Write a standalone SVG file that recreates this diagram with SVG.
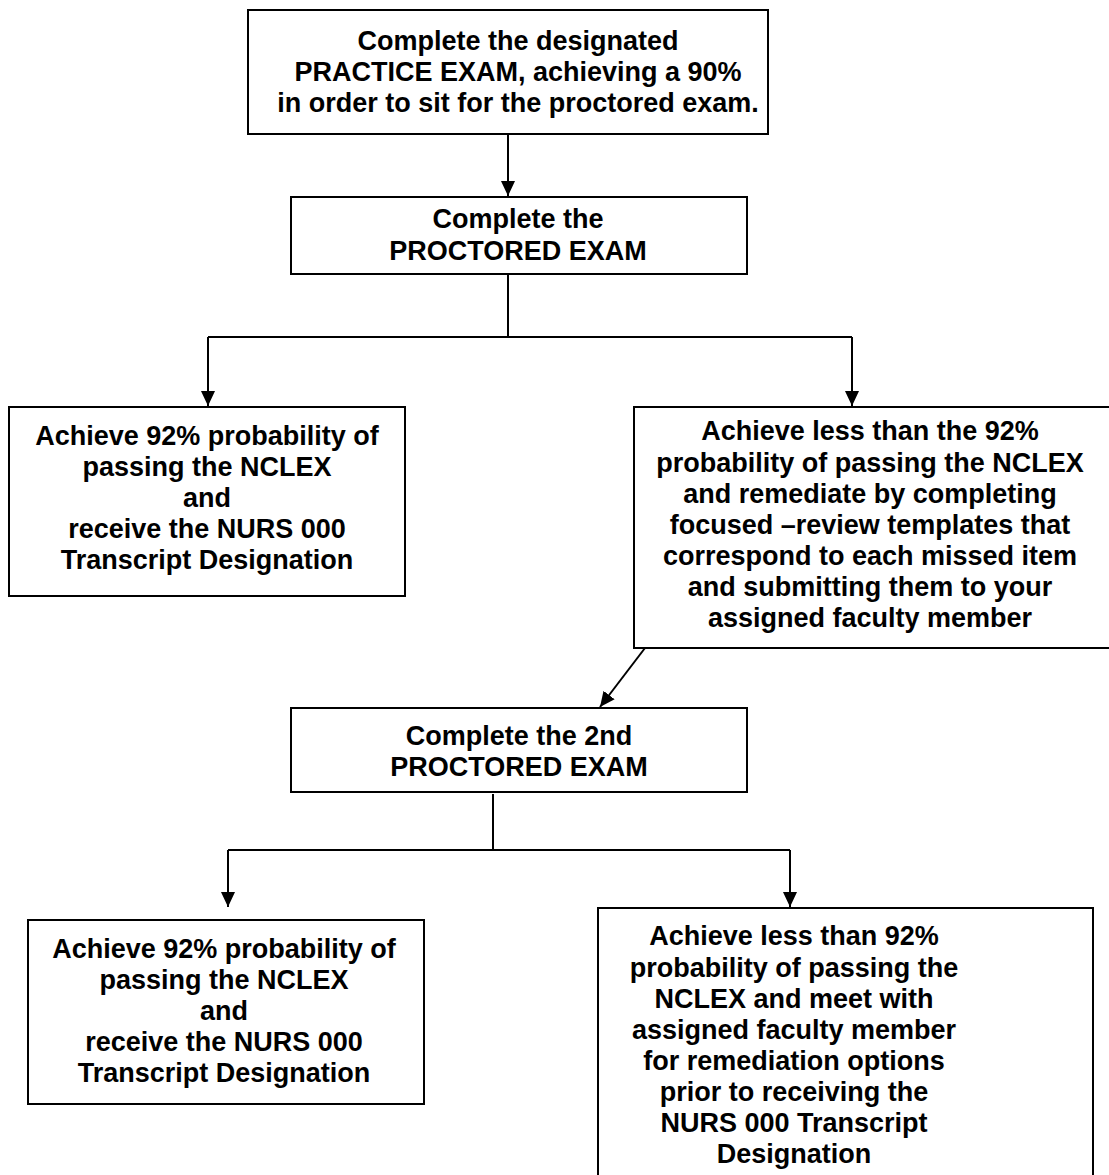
<svg xmlns="http://www.w3.org/2000/svg" width="1109" height="1175" viewBox="0 0 1109 1175">
<defs>
<marker id="ah" markerWidth="14" markerHeight="16" refX="15" refY="7" orient="auto" markerUnits="userSpaceOnUse">
<path d="M0,0 L15,7 L0,14 Z" fill="#000"/>
</marker>
<style>
.box{fill:#fff;stroke:#000;stroke-width:2}
.t{font-family:"Liberation Sans",Arial,sans-serif;font-weight:bold;font-size:27px;text-anchor:middle;fill:#000}
.c{fill:none;stroke:#000;stroke-width:2}
</style>
</defs>
<rect width="1109" height="1175" fill="#fff"/>
<g id="connectors">
<path class="c" d="M508,134 V196" marker-end="url(#ah)"/>
<path class="c" d="M508,274 V337"/>
<path class="c" d="M208,337 H852"/>
<path class="c" d="M208,337 V406" marker-end="url(#ah)"/>
<path class="c" d="M852,337 V406" marker-end="url(#ah)"/>
<path class="c" d="M645,648 L600,707" marker-end="url(#ah)"/>
<path class="c" d="M493,794 V850"/>
<path class="c" d="M228,850 H790"/>
<path class="c" d="M228,850 V907" marker-end="url(#ah)"/>
<path class="c" d="M790,850 V907" marker-end="url(#ah)"/>
</g>
<g id="n1">
<rect class="box" x="248" y="10" width="520" height="124"/>
<text class="t" x="518" y="50">Complete the designated</text>
<text class="t" x="518" y="81">PRACTICE EXAM, achieving a 90%</text>
<text class="t" x="518" y="112">in order to sit for the proctored exam.</text>
</g>
<g id="n2">
<rect class="box" x="291" y="197" width="456" height="77"/>
<text class="t" x="518" y="228">Complete the</text>
<text class="t" x="518" y="260">PROCTORED EXAM</text>
</g>
<g id="n3">
<rect class="box" x="9" y="407" width="396" height="189"/>
<text class="t" x="207" y="445">Achieve 92% probability of</text>
<text class="t" x="207" y="476">passing the NCLEX</text>
<text class="t" x="207" y="507">and</text>
<text class="t" x="207" y="538">receive the NURS 000</text>
<text class="t" x="207" y="569">Transcript Designation</text>
</g>
<g id="n4">
<rect class="box" x="634" y="407" width="480" height="241"/>
<text class="t" x="870" y="440">Achieve less than the 92%</text>
<text class="t" x="870" y="472">probability of passing the NCLEX</text>
<text class="t" x="870" y="503">and remediate by completing</text>
<text class="t" x="870" y="534">focused –review templates that</text>
<text class="t" x="870" y="565">correspond to each missed item</text>
<text class="t" x="870" y="596">and submitting them to your</text>
<text class="t" x="870" y="627">assigned faculty member</text>
</g>
<g id="n5">
<rect class="box" x="291" y="708" width="456" height="84"/>
<text class="t" x="519" y="745">Complete the 2nd</text>
<text class="t" x="519" y="776">PROCTORED EXAM</text>
</g>
<g id="n6">
<rect class="box" x="28" y="920" width="396" height="184"/>
<text class="t" x="224" y="958">Achieve 92% probability of</text>
<text class="t" x="224" y="989">passing the NCLEX</text>
<text class="t" x="224" y="1020">and</text>
<text class="t" x="224" y="1051">receive the NURS 000</text>
<text class="t" x="224" y="1082">Transcript Designation</text>
</g>
<g id="n7">
<rect class="box" x="598" y="908" width="495" height="280"/>
<text class="t" x="794" y="945">Achieve less than 92%</text>
<text class="t" x="794" y="977">probability of passing the</text>
<text class="t" x="794" y="1008">NCLEX and meet with</text>
<text class="t" x="794" y="1039">assigned faculty member</text>
<text class="t" x="794" y="1070">for remediation options</text>
<text class="t" x="794" y="1101">prior to receiving the</text>
<text class="t" x="794" y="1132">NURS 000 Transcript</text>
<text class="t" x="794" y="1163">Designation</text>
</g>
</svg>
